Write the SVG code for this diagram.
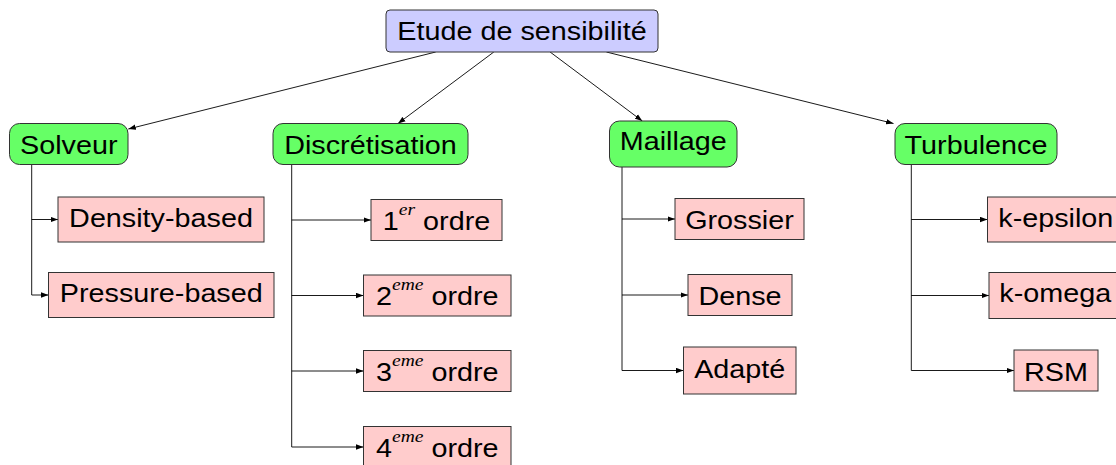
<svg xmlns="http://www.w3.org/2000/svg" width="1116" height="465" viewBox="0 0 1116 465">
<style>
.t{font-family:"Liberation Sans",Arial,sans-serif;font-size:25px;fill:#000;text-anchor:middle}
.sup{font-family:"Liberation Serif","Times New Roman",serif;font-style:italic;font-size:17px}
.root{fill:#ccccff;stroke:#333;stroke-width:1}
.cat{fill:#66ff66;stroke:#333;stroke-width:1}
.leaf{fill:#ffcccc;stroke:#333;stroke-width:1}
.c{stroke:#000;stroke-width:0.9;fill:none}
.a{stroke:#000;stroke-width:0.9;fill:none;marker-end:url(#arr)}
</style>
<defs>
<marker id="arr" markerUnits="userSpaceOnUse" markerWidth="8" markerHeight="6" refX="7.5" refY="3" orient="auto">
<path d="M0,0.3 L7.5,3 L0,5.7 Z" fill="#000"/>
</marker>
</defs>
<rect width="1116" height="465" fill="#fff"/>
<g id="connectors">
<line class="a" x1="435.7" y1="52" x2="128.3" y2="129"/>
<line class="a" x1="493.8" y1="52" x2="398" y2="123.5"/>
<line class="a" x1="550.1" y1="52" x2="642.3" y2="121"/>
<line class="a" x1="606.4" y1="52" x2="893.5" y2="123.5"/>
<path class="c" d="M31.7,164.5 V295"/>
<line class="a" x1="31.7" y1="219.5" x2="58" y2="219.5"/>
<line class="a" x1="31.7" y1="295" x2="48.5" y2="295"/>
<path class="c" d="M291.7,164.5 V447"/>
<line class="a" x1="291.7" y1="220" x2="371" y2="220"/>
<line class="a" x1="291.7" y1="295.5" x2="363.5" y2="295.5"/>
<line class="a" x1="291.7" y1="371" x2="363.5" y2="371"/>
<line class="a" x1="291.7" y1="447" x2="363.5" y2="447"/>
<path class="c" d="M622,167 V370.5"/>
<line class="a" x1="622" y1="219" x2="675" y2="219"/>
<line class="a" x1="622" y1="295" x2="688" y2="295"/>
<line class="a" x1="622" y1="370.5" x2="683.5" y2="370.5"/>
<path class="c" d="M911.3,164.5 V370.5"/>
<line class="a" x1="911.3" y1="219.5" x2="987.5" y2="219.5"/>
<line class="a" x1="911.3" y1="295.5" x2="989" y2="295.5"/>
<line class="a" x1="911.3" y1="370.5" x2="1014" y2="370.5"/>
</g>
<g id="root">
<rect class="root" x="386" y="10" width="272" height="42" rx="4"/>
<text class="t" transform="translate(522,39.5) scale(1.15,1)">Etude de sensibilité</text>
</g>
<g id="solveur">
<rect class="cat" x="9.5" y="123.5" width="118.5" height="41" rx="10"/>
<text class="t" transform="translate(68.75,154) scale(1.15,1)">Solveur</text>
</g>
<g id="discretisation">
<rect class="cat" x="273" y="123.5" width="195" height="41" rx="10"/>
<text class="t" transform="translate(370.5,154) scale(1.15,1)">Discrétisation</text>
</g>
<g id="maillage">
<rect class="cat" x="609.5" y="121" width="127.5" height="46" rx="10"/>
<text class="t" transform="translate(673.25,149.5) scale(1.15,1)">Maillage</text>
</g>
<g id="turbulence">
<rect class="cat" x="895" y="123.5" width="162" height="41" rx="10"/>
<text class="t" transform="translate(976,154) scale(1.15,1)">Turbulence</text>
</g>
<g id="density">
<rect class="leaf" x="58" y="197" width="206" height="45"/>
<text class="t" transform="translate(161,226.7) scale(1.15,1)">Density-based</text>
</g>
<g id="pressure">
<rect class="leaf" x="48.5" y="272.5" width="225.5" height="45"/>
<text class="t" transform="translate(161.25,302) scale(1.15,1)">Pressure-based</text>
</g>
<g id="ordre1">
<rect class="leaf" x="371" y="199.5" width="131" height="41"/>
<text class="t" transform="translate(436.5,229.5) scale(1.15,1)">1<tspan class="sup" dy="-15">er</tspan><tspan dy="15"> ordre</tspan></text>
</g>
<g id="ordre2">
<rect class="leaf" x="363.5" y="275" width="147.5" height="41"/>
<text class="t" transform="translate(437.25,304.5) scale(1.15,1)">2<tspan class="sup" dy="-15">eme</tspan><tspan dy="15"> ordre</tspan></text>
</g>
<g id="ordre3">
<rect class="leaf" x="363.5" y="350.5" width="147.5" height="41"/>
<text class="t" transform="translate(437.25,380.5) scale(1.15,1)">3<tspan class="sup" dy="-15">eme</tspan><tspan dy="15"> ordre</tspan></text>
</g>
<g id="ordre4">
<rect class="leaf" x="363.5" y="426.5" width="147.5" height="41"/>
<text class="t" transform="translate(437.25,456.5) scale(1.15,1)">4<tspan class="sup" dy="-15">eme</tspan><tspan dy="15"> ordre</tspan></text>
</g>
<g id="grossier">
<rect class="leaf" x="675" y="198.5" width="129" height="41"/>
<text class="t" transform="translate(739.5,228.5) scale(1.15,1)">Grossier</text>
</g>
<g id="dense">
<rect class="leaf" x="688" y="274.5" width="104" height="41"/>
<text class="t" transform="translate(740,304.5) scale(1.15,1)">Dense</text>
</g>
<g id="adapte">
<rect class="leaf" x="683.5" y="347" width="112.5" height="47"/>
<text class="t" transform="translate(739.75,378) scale(1.15,1)">Adapté</text>
</g>
<g id="kepsilon">
<rect class="leaf" x="987.5" y="197" width="140" height="45"/>
<text class="t" transform="translate(1055.8,226.7) scale(1.15,1)">k-epsilon</text>
</g>
<g id="komega">
<rect class="leaf" x="989" y="272.5" width="135" height="46"/>
<text class="t" transform="translate(1055.2,302) scale(1.15,1)">k-omega</text>
</g>
<g id="rsm">
<rect class="leaf" x="1014" y="350" width="84" height="41"/>
<text class="t" transform="translate(1056,380.5) scale(1.15,1)">RSM</text>
</g>
</svg>
